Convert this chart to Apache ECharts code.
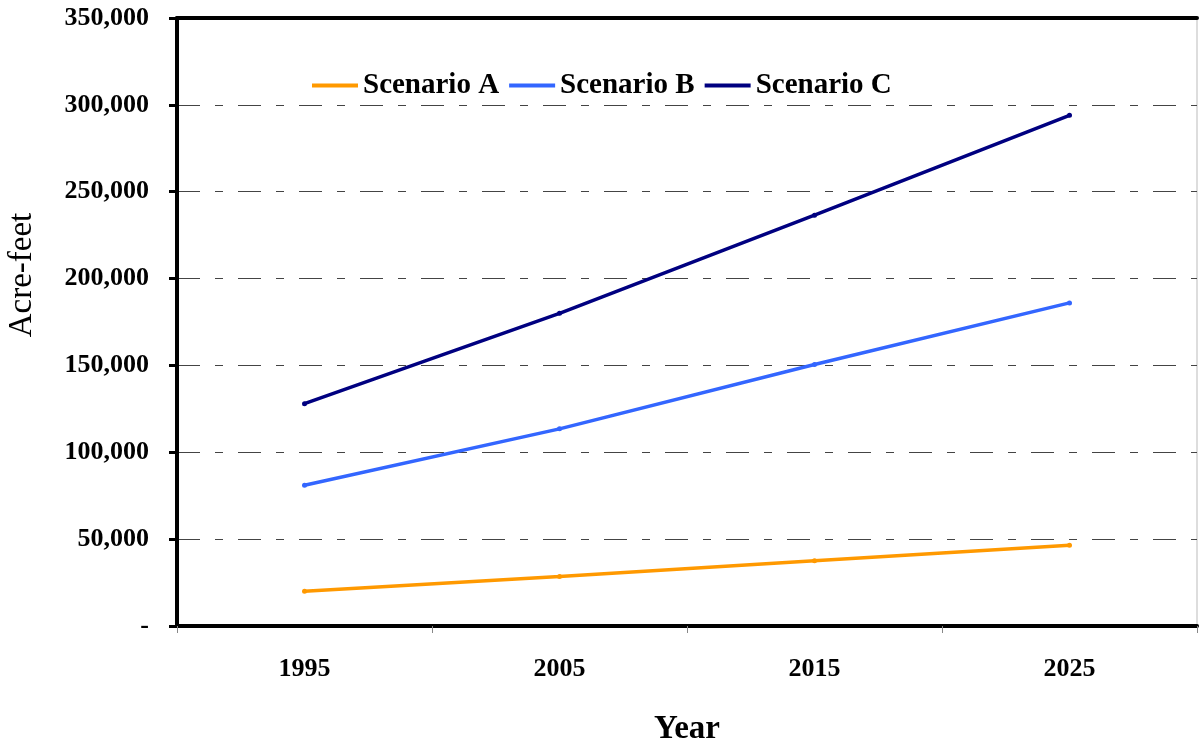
<!DOCTYPE html>
<html>
<head>
<meta charset="utf-8">
<script src="https://cdn.jsdelivr.net/npm/echarts@6/dist/echarts.min.js"></script>
<style>
  html, body { margin: 0; padding: 0; background: #fff; }
  #container { width: 1199px; height: 743px; }
</style>
</head>
<body>
<div id="container"></div>
<script>
var years = ["1995", "2005", "2015", "2025"];
var scenarioA = [20000, 28500, 37500, 46500];
var scenarioB = [81000, 113500, 150500, 186000];
var scenarioC = [128000, 180000, 236500, 294000];
var yTicks = { min: 0, max: 350000, interval: 50000 };

(function() {
  var dom = document.getElementById("container");
  var myChart = echarts.init(dom);
  var font = "'Liberation Serif', 'Times New Roman', serif";

  function line(name, data, color) {
    return {
      name: name,
      type: "line",
      data: data,
      symbol: "circle",
      symbolSize: 5,
      lineStyle: { width: 3.5, color: color },
      itemStyle: { color: color }
    };
  }

  var option = {
    animation: false,
    textStyle: { fontFamily: font },
    grid: {
      left: 177, right: 2, top: 18, bottom: 117,
      outerBoundsMode: "none",
      show: true, borderColor: "#bbb", borderWidth: 1
    },
    legend: {
      left: 307, top: 66,
      itemWidth: 46, itemHeight: 4, itemGap: 10,
      icon: "rect",
      textStyle: { fontFamily: font, fontWeight: "bold", fontSize: 29, color: "#000" },
      data: ["Scenario A", "Scenario B", "Scenario C"]
    },
    xAxis: [{
      type: "category",
      data: years,
      boundaryGap: true,
      name: "Year",
      nameLocation: "middle",
      nameGap: 87,
      nameTextStyle: { fontFamily: font, fontWeight: "bold", fontSize: 33, color: "#000" },
      axisLine: { lineStyle: { color: "#000", width: 4 } },
      axisTick: { show: true, length: 7, lineStyle: { color: "#888", width: 1 } },
      axisLabel: { margin: 30, fontFamily: font, fontWeight: "bold", fontSize: 26, color: "#000" },
      splitLine: { show: false }
    }, {
      type: "category",
      data: years,
      position: "top",
      axisLine: { lineStyle: { color: "#000", width: 4 } },
      axisTick: { show: false },
      axisLabel: { show: false }
    }],
    yAxis: {
      type: "value",
      min: yTicks.min, max: yTicks.max, interval: yTicks.interval,
      name: "Acre-feet",
      nameLocation: "middle",
      nameGap: 138,
      nameTextStyle: { fontFamily: font, fontSize: 33, color: "#000", padding: [0, 0, 0, 94] },
      axisLine: { show: true, lineStyle: { color: "#000", width: 4 } },
      axisTick: { show: true, length: 8, lineStyle: { color: "#000", width: 3 } },
      axisLabel: {
        margin: 28, fontFamily: font, fontWeight: "bold", fontSize: 26, color: "#000",
        formatter: function(v) { return v === 0 ? "-" : v.toLocaleString("en-US"); }
      },
      splitLine: {
        show: true,
        lineStyle: { color: "#444", width: 1, type: [23, 15, 8, 15] }
      }
    },
    series: [
      line("Scenario A", scenarioA, "#FF9900"),
      line("Scenario B", scenarioB, "#3366FF"),
      line("Scenario C", scenarioC, "#000080")
    ]
  };
  myChart.setOption(option, true);
})();
</script>
</body>
</html>
